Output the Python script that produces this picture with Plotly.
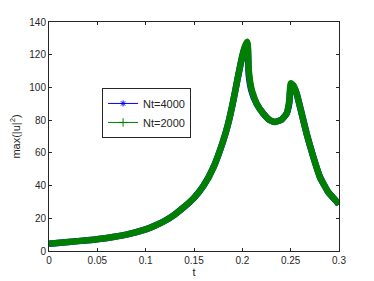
import plotly.graph_objects as go

# values
t = [0.0, 0.02, 0.04, 0.06, 0.08, 0.1, 0.11, 0.12, 0.13, 0.14, 0.15, 0.16, 0.17,
     0.18, 0.185, 0.19, 0.195, 0.2, 0.203, 0.205, 0.2058, 0.2066,
     0.2097, 0.2148, 0.2217, 0.2286, 0.2338, 0.2407, 0.2458, 0.2486, 0.25, 0.2527,
     0.2562, 0.2614, 0.2665, 0.2734, 0.2803, 0.2889, 0.2993, 0.3]
nt4000 = [4.5, 5.5, 6.6, 8.0, 10.0, 13.2, 15.6, 18.5, 22.3, 27.0, 32.5, 40.0, 51.0,
          67.0, 77.0, 90.0, 105.0, 119.0, 125.0, 127.5, 122.0, 108.0,
          97.5, 90.0, 84.0, 79.9, 78.9, 80.3, 84.0, 90.5, 100.5, 101.0,
          96.2, 84.0, 71.8, 57.5, 45.2, 36.0, 29.0, 28.2]
nt2000 = [4.5, 5.5, 6.6, 8.0, 10.0, 13.2, 15.6, 18.5, 22.3, 27.0, 32.5, 40.0, 51.0,
          67.0, 77.0, 90.0, 105.0, 119.5, 125.5, 128.0, 125.0, 111.0,
          98.5, 90.0, 84.0, 79.9, 78.9, 80.3, 84.0, 92.0, 102.5, 101.3,
          96.2, 84.0, 71.8, 57.5, 45.2, 36.0, 29.0, 28.2]

x_ticks = [0, 0.05, 0.1, 0.15, 0.2, 0.25, 0.3]
x_labels = ["0", "0.05", "0.1", "0.15", "0.2", "0.25", "0.3"]
y_ticks = [0, 20, 40, 60, 80, 100, 120, 140]

BLUE = "#0000ff"
GREEN = "#007f00"

fig = go.Figure()
fig.add_trace(go.Scatter(x=t, y=nt4000, mode="lines",
                         line=dict(color=BLUE, width=6.5, shape="spline", smoothing=0.4),
                         showlegend=False, hoverinfo="skip"))
fig.add_trace(go.Scatter(x=t, y=nt2000, mode="lines",
                         line=dict(color=GREEN, width=6.5, shape="spline", smoothing=0.4),
                         showlegend=False, hoverinfo="skip"))
fig.add_trace(go.Scatter(x=[None], y=[None], mode="lines+markers", name="Nt=4000",
                         line=dict(color=BLUE, width=1),
                         marker=dict(symbol="asterisk-open", size=5, color=BLUE,
                                     line=dict(color=BLUE, width=1))))
fig.add_trace(go.Scatter(x=[None], y=[None], mode="lines+markers", name="Nt=2000",
                         line=dict(color=GREEN, width=1),
                         marker=dict(symbol="cross-thin-open", size=6, color=GREEN,
                                     line=dict(color=GREEN, width=1))))

axis_common = dict(showline=True, linecolor="#262626", linewidth=1, mirror="ticks",
                   ticks="inside", ticklen=3, tickcolor="#262626", showgrid=False,
                   zeroline=False, automargin=False,
                   tickfont=dict(size=10, color="#262626"))

# the page body adds an 8px offset, so the figure is sized to fit the window
fig.update_layout(
    width=366, height=273,
    margin=dict(l=41, r=35, t=14, b=30),
    paper_bgcolor="white", plot_bgcolor="white",
    font=dict(family="Liberation Sans, Arial, sans-serif", size=10, color="#262626"),
    xaxis=dict(range=[0, 0.3], tickvals=x_ticks, ticktext=x_labels,
               title=dict(text="t", font=dict(size=11), standoff=2), **axis_common),
    yaxis=dict(range=[0, 140], tickvals=y_ticks,
               title=dict(text="max(|u|<sup>2</sup>)", font=dict(size=11), standoff=6),
               **axis_common),
    legend=dict(x=0.183, y=0.712, xanchor="left", yanchor="top",
                bordercolor="#262626", borderwidth=1, bgcolor="white",
                font=dict(size=11, color="#262626"), tracegroupgap=0,
                itemwidth=30),
)

fig.write_html("out.html")
